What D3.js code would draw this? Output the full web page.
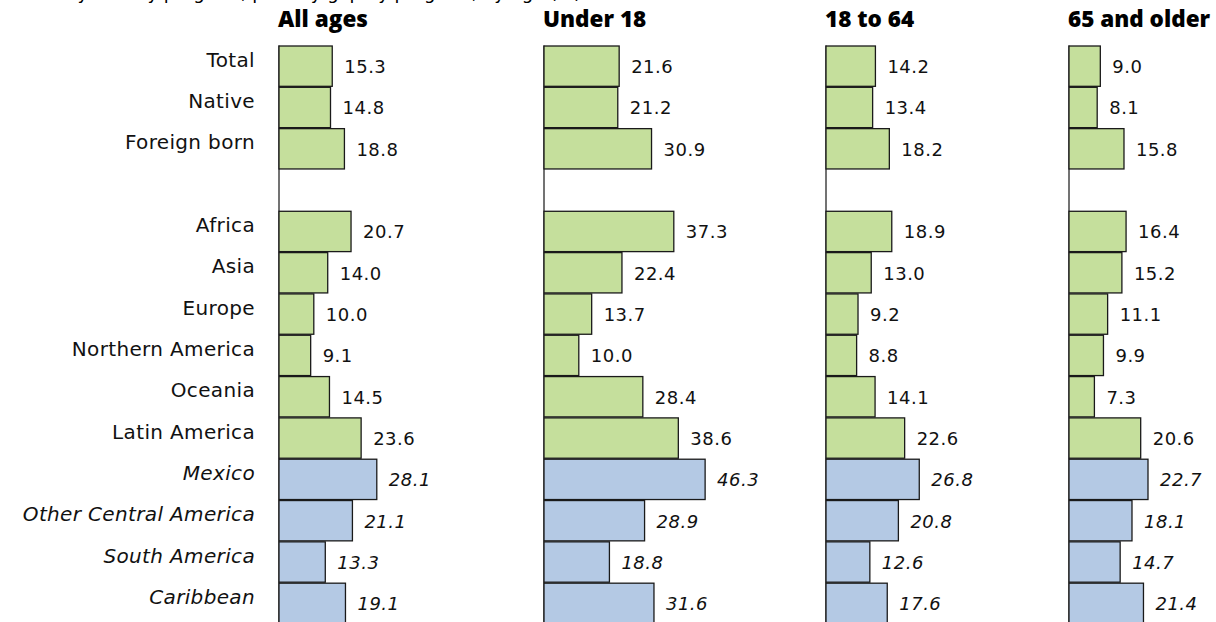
<!DOCTYPE html>
<html>
<head>
<meta charset="utf-8">
<script src="https://cdn.jsdelivr.net/npm/d3@7"></script>
<style>
  html, body { margin: 0; padding: 0; background: #fff; }
  svg { display: block; }
</style>
</head>
<body>
<svg id="chart" width="1216" height="622"></svg>
<script>
// ---- data ----
const categories = ["Total", "Native", "Foreign born", null, "Africa", "Asia", "Europe",
  "Northern America", "Oceania", "Latin America", "Mexico", "Other Central America",
  "South America", "Caribbean"];
const subRegions = ["Mexico", "Other Central America", "South America", "Caribbean"];
const panels = ["All ages", "Under 18", "18 to 64", "65 and older"];
const allAges   = [15.3, 14.8, 18.8, null, 20.7, 14.0, 10.0, 9.1, 14.5, 23.6, 28.1, 21.1, 13.3, 19.1];
const under18   = [21.6, 21.2, 30.9, null, 37.3, 22.4, 13.7, 10.0, 28.4, 38.6, 46.3, 28.9, 18.8, 31.6];
const age18to64 = [14.2, 13.4, 18.2, null, 18.9, 13.0, 9.2, 8.8, 14.1, 22.6, 26.8, 20.8, 12.6, 17.6];
const age65plus = [9.0, 8.1, 15.8, null, 16.4, 15.2, 11.1, 9.9, 7.3, 20.6, 22.7, 18.1, 14.7, 21.4];
const titleText = "Poverty rate by program, poverty gap by program, by age (%)";

const seriesValues = [allAges, under18, age18to64, age65plus];

// ---- layout ----
const svg = d3.select("#chart");
const panelX = d3.scaleOrdinal().domain(panels).range([279, 544, 826, 1069]);
const y = d3.scaleBand().domain(d3.range(categories.length)).range([45.5, 624]).padding(0);
const x = d3.scaleLinear().domain([0, 50]).range([0, 174]);

const green = "#c5df9c", blue = "#b4c9e4";
const isSub = i => subRegions.includes(categories[i]);
const labelFont = "'DejaVu Sans', Verdana, sans-serif";

// cut-off title at very top (only descenders visible, as in the reference)
svg.append("text")
  .attr("x", 20).attr("y", -1)
  .attr("font-family", labelFont).attr("font-size", 18)
  .attr("fill", "#000")
  .text(titleText);

// category labels
svg.append("g").selectAll("text")
  .data(categories.map((c, i) => ({c, i})).filter(d => d.c))
  .join("text")
  .attr("x", 255)
  .attr("y", d => y(d.i) + y.bandwidth() / 2 - 5)
  .attr("dominant-baseline", "middle")
  .attr("text-anchor", "end")
  .attr("font-family", labelFont)
  .attr("font-size", 20)
  .attr("letter-spacing", 0.35)
  .attr("font-style", d => isSub(d.i) ? "italic" : "normal")
  .attr("fill", "#111")
  .text(d => d.c);

panels.forEach((p, pi) => {
  const x0 = panelX(p);
  const g = svg.append("g").attr("transform", `translate(${x0},0)`);
  const vals = seriesValues[pi];
  const rows = vals.map((v, i) => ({v, i})).filter(d => d.v != null);

  // header
  g.append("text")
    .attr("x", -1).attr("y", 27)
    .attr("font-family", "'Open Sans', 'DejaVu Sans', sans-serif")
    .attr("font-weight", 800)
    .attr("font-size", 22.5)
    .attr("fill", "#000")
    .text(p);

  // axis line
  g.append("line")
    .attr("x1", 0).attr("x2", 0)
    .attr("y1", y(0)).attr("y2", 622)
    .attr("stroke", "#444").attr("stroke-width", 1.5);

  // bars
  g.selectAll("rect")
    .data(rows)
    .join("rect")
    .attr("x", 0)
    .attr("y", d => y(d.i) + 0.5)
    .attr("width", d => x(d.v))
    .attr("height", y.bandwidth() - 1)
    .attr("fill", d => isSub(d.i) ? blue : green)
    .attr("stroke", "#1a1a1a")
    .attr("stroke-width", 1.3);

  // value labels
  g.selectAll("text.val")
    .data(rows)
    .join("text")
    .attr("class", "val")
    .attr("x", d => x(d.v) + 12)
    .attr("y", d => y(d.i) + y.bandwidth() / 2 + 2)
    .attr("dominant-baseline", "middle")
    .attr("font-family", labelFont)
    .attr("font-size", 18)
    .attr("letter-spacing", 0.5)
    .attr("font-style", d => isSub(d.i) ? "italic" : "normal")
    .attr("fill", "#111")
    .text(d => d3.format(".1f")(d.v));
});
</script>
</body>
</html>
